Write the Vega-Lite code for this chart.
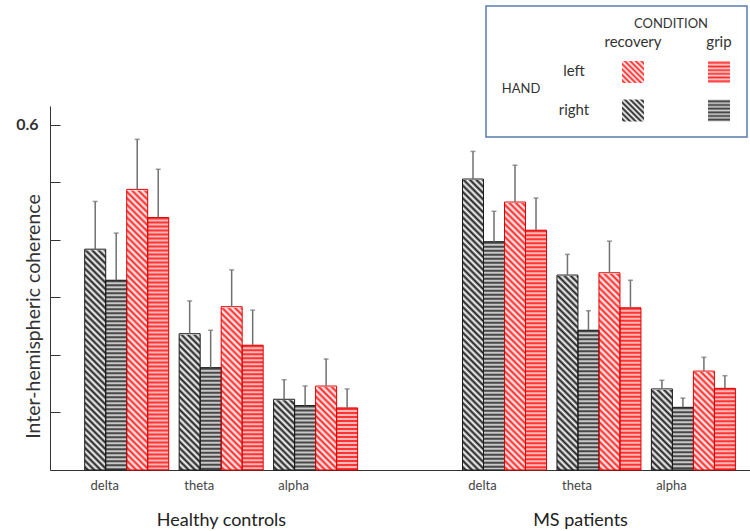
{
  "$schema": "https://vega.github.io/schema/vega-lite/v6.json",
  "width": 700,
  "height": 465,
  "autosize": {"type": "none"},
  "padding": {"left": 50, "top": 5, "right": 0, "bottom": 61},
  "background": "white",
  "config": {"view": {"stroke": null}, "font": "Lato"},
  "datasets": {
    "bars": [
      {"cell": "HC delta", "group": "Healthy controls", "band": "delta", "hand": "right", "condition": "recovery", "series": "right recovery", "mean": 0.384, "upper": 0.467},
      {"cell": "HC delta", "group": "Healthy controls", "band": "delta", "hand": "right", "condition": "grip", "series": "right grip", "mean": 0.330, "upper": 0.412},
      {"cell": "HC delta", "group": "Healthy controls", "band": "delta", "hand": "left", "condition": "recovery", "series": "left recovery", "mean": 0.488, "upper": 0.575},
      {"cell": "HC delta", "group": "Healthy controls", "band": "delta", "hand": "left", "condition": "grip", "series": "left grip", "mean": 0.439, "upper": 0.523},
      {"cell": "HC theta", "group": "Healthy controls", "band": "theta", "hand": "right", "condition": "recovery", "series": "right recovery", "mean": 0.237, "upper": 0.294},
      {"cell": "HC theta", "group": "Healthy controls", "band": "theta", "hand": "right", "condition": "grip", "series": "right grip", "mean": 0.178, "upper": 0.243},
      {"cell": "HC theta", "group": "Healthy controls", "band": "theta", "hand": "left", "condition": "recovery", "series": "left recovery", "mean": 0.284, "upper": 0.348},
      {"cell": "HC theta", "group": "Healthy controls", "band": "theta", "hand": "left", "condition": "grip", "series": "left grip", "mean": 0.217, "upper": 0.278},
      {"cell": "HC alpha", "group": "Healthy controls", "band": "alpha", "hand": "right", "condition": "recovery", "series": "right recovery", "mean": 0.123, "upper": 0.157},
      {"cell": "HC alpha", "group": "Healthy controls", "band": "alpha", "hand": "right", "condition": "grip", "series": "right grip", "mean": 0.112, "upper": 0.146},
      {"cell": "HC alpha", "group": "Healthy controls", "band": "alpha", "hand": "left", "condition": "recovery", "series": "left recovery", "mean": 0.146, "upper": 0.193},
      {"cell": "HC alpha", "group": "Healthy controls", "band": "alpha", "hand": "left", "condition": "grip", "series": "left grip", "mean": 0.108, "upper": 0.141},
      {"cell": "MS delta", "group": "MS patients", "band": "delta", "hand": "right", "condition": "recovery", "series": "right recovery", "mean": 0.506, "upper": 0.554},
      {"cell": "MS delta", "group": "MS patients", "band": "delta", "hand": "right", "condition": "grip", "series": "right grip", "mean": 0.397, "upper": 0.450},
      {"cell": "MS delta", "group": "MS patients", "band": "delta", "hand": "left", "condition": "recovery", "series": "left recovery", "mean": 0.466, "upper": 0.530},
      {"cell": "MS delta", "group": "MS patients", "band": "delta", "hand": "left", "condition": "grip", "series": "left grip", "mean": 0.417, "upper": 0.473},
      {"cell": "MS theta", "group": "MS patients", "band": "theta", "hand": "right", "condition": "recovery", "series": "right recovery", "mean": 0.339, "upper": 0.375},
      {"cell": "MS theta", "group": "MS patients", "band": "theta", "hand": "right", "condition": "grip", "series": "right grip", "mean": 0.243, "upper": 0.277},
      {"cell": "MS theta", "group": "MS patients", "band": "theta", "hand": "left", "condition": "recovery", "series": "left recovery", "mean": 0.343, "upper": 0.398},
      {"cell": "MS theta", "group": "MS patients", "band": "theta", "hand": "left", "condition": "grip", "series": "left grip", "mean": 0.282, "upper": 0.330},
      {"cell": "MS alpha", "group": "MS patients", "band": "alpha", "hand": "right", "condition": "recovery", "series": "right recovery", "mean": 0.141, "upper": 0.156},
      {"cell": "MS alpha", "group": "MS patients", "band": "alpha", "hand": "right", "condition": "grip", "series": "right grip", "mean": 0.109, "upper": 0.125},
      {"cell": "MS alpha", "group": "MS patients", "band": "alpha", "hand": "left", "condition": "recovery", "series": "left recovery", "mean": 0.172, "upper": 0.196},
      {"cell": "MS alpha", "group": "MS patients", "band": "alpha", "hand": "left", "condition": "grip", "series": "left grip", "mean": 0.142, "upper": 0.164}
    ],
    "groups": [{"group": "Healthy controls"}, {"group": "MS patients"}],
    "legend": [
      {"lx": "HAND", "ly": "HAND", "label": "HAND"},
      {"lx": "side", "ly": "left", "label": "left"},
      {"lx": "side", "ly": "right", "label": "right"},
      {"lx": "recovery", "ly": "header", "label": "recovery"},
      {"lx": "grip", "ly": "header", "label": "grip"},
      {"lx": "grip", "ly": "CONDITION", "label": "CONDITION"},
      {"lx": "recovery", "ly": "left", "swatch": "left recovery"},
      {"lx": "grip", "ly": "left", "swatch": "left grip"},
      {"lx": "recovery", "ly": "right", "swatch": "right recovery"},
      {"lx": "grip", "ly": "right", "swatch": "right grip"}
    ]
  },
  "layer": [
    {
      "data": {"name": "bars"},
      "encoding": {
        "x": {
          "field": "cell", "type": "nominal",
          "scale": {"domain": ["HC delta", "HC theta", "HC alpha", "gap", "MS delta", "MS theta", "MS alpha"], "paddingInner": 0.1106, "paddingOuter": 0.261, "align": 0.704},
          "axis": {"title": null, "labelExpr": "datum.value == 'gap' ? '' : split(datum.value, ' ')[1]", "ticks": false, "labelAngle": 0, "labelFontSize": 13, "labelFont": "Lato", "labelColor": "#444", "labelPadding": 9, "labelOffset": -22, "domainColor": "#333", "domainWidth": 1}
        },
        "xOffset": {"field": "series", "type": "nominal", "scale": {"domain": ["right recovery", "right grip", "left recovery", "left grip"], "paddingInner": 0, "paddingOuter": 0}}
      },
      "layer": [
        {
          "transform": [{"filter": "datum.series == 'right recovery'"}],
          "mark": {"type": "bar", "strokeWidth": 0, "fill": {"gradient": "linear", "x1": 0, "y1": 1, "x2": 0.0748, "y2": -0.065, "stops": [
            {"offset": 0, "color": "#fff"}, {"offset": 0.01, "color": "#1a1a1a"}, {"offset": 0.02, "color": "#fff"}, {"offset": 0.03, "color": "#1a1a1a"}, {"offset": 0.04, "color": "#fff"}, {"offset": 0.05, "color": "#1a1a1a"}, {"offset": 0.06, "color": "#fff"}, {"offset": 0.07, "color": "#1a1a1a"}, {"offset": 0.08, "color": "#fff"}, {"offset": 0.09, "color": "#1a1a1a"},
            {"offset": 0.10, "color": "#fff"}, {"offset": 0.11, "color": "#1a1a1a"}, {"offset": 0.12, "color": "#fff"}, {"offset": 0.13, "color": "#1a1a1a"}, {"offset": 0.14, "color": "#fff"}, {"offset": 0.15, "color": "#1a1a1a"}, {"offset": 0.16, "color": "#fff"}, {"offset": 0.17, "color": "#1a1a1a"}, {"offset": 0.18, "color": "#fff"}, {"offset": 0.19, "color": "#1a1a1a"},
            {"offset": 0.20, "color": "#fff"}, {"offset": 0.21, "color": "#1a1a1a"}, {"offset": 0.22, "color": "#fff"}, {"offset": 0.23, "color": "#1a1a1a"}, {"offset": 0.24, "color": "#fff"}, {"offset": 0.25, "color": "#1a1a1a"}, {"offset": 0.26, "color": "#fff"}, {"offset": 0.27, "color": "#1a1a1a"}, {"offset": 0.28, "color": "#fff"}, {"offset": 0.29, "color": "#1a1a1a"},
            {"offset": 0.30, "color": "#fff"}, {"offset": 0.31, "color": "#1a1a1a"}, {"offset": 0.32, "color": "#fff"}, {"offset": 0.33, "color": "#1a1a1a"}, {"offset": 0.34, "color": "#fff"}, {"offset": 0.35, "color": "#1a1a1a"}, {"offset": 0.36, "color": "#fff"}, {"offset": 0.37, "color": "#1a1a1a"}, {"offset": 0.38, "color": "#fff"}, {"offset": 0.39, "color": "#1a1a1a"},
            {"offset": 0.40, "color": "#fff"}, {"offset": 0.41, "color": "#1a1a1a"}, {"offset": 0.42, "color": "#fff"}, {"offset": 0.43, "color": "#1a1a1a"}, {"offset": 0.44, "color": "#fff"}, {"offset": 0.45, "color": "#1a1a1a"}, {"offset": 0.46, "color": "#fff"}, {"offset": 0.47, "color": "#1a1a1a"}, {"offset": 0.48, "color": "#fff"}, {"offset": 0.49, "color": "#1a1a1a"},
            {"offset": 0.50, "color": "#fff"}, {"offset": 0.51, "color": "#1a1a1a"}, {"offset": 0.52, "color": "#fff"}, {"offset": 0.53, "color": "#1a1a1a"}, {"offset": 0.54, "color": "#fff"}, {"offset": 0.55, "color": "#1a1a1a"}, {"offset": 0.56, "color": "#fff"}, {"offset": 0.57, "color": "#1a1a1a"}, {"offset": 0.58, "color": "#fff"}, {"offset": 0.59, "color": "#1a1a1a"},
            {"offset": 0.60, "color": "#fff"}, {"offset": 0.61, "color": "#1a1a1a"}, {"offset": 0.62, "color": "#fff"}, {"offset": 0.63, "color": "#1a1a1a"}, {"offset": 0.64, "color": "#fff"}, {"offset": 0.65, "color": "#1a1a1a"}, {"offset": 0.66, "color": "#fff"}, {"offset": 0.67, "color": "#1a1a1a"}, {"offset": 0.68, "color": "#fff"}, {"offset": 0.69, "color": "#1a1a1a"},
            {"offset": 0.70, "color": "#fff"}, {"offset": 0.71, "color": "#1a1a1a"}, {"offset": 0.72, "color": "#fff"}, {"offset": 0.73, "color": "#1a1a1a"}, {"offset": 0.74, "color": "#fff"}, {"offset": 0.75, "color": "#1a1a1a"}, {"offset": 0.76, "color": "#fff"}, {"offset": 0.77, "color": "#1a1a1a"}, {"offset": 0.78, "color": "#fff"}, {"offset": 0.79, "color": "#1a1a1a"},
            {"offset": 0.80, "color": "#fff"}, {"offset": 0.81, "color": "#1a1a1a"}, {"offset": 0.82, "color": "#fff"}, {"offset": 0.83, "color": "#1a1a1a"}, {"offset": 0.84, "color": "#fff"}, {"offset": 0.85, "color": "#1a1a1a"}, {"offset": 0.86, "color": "#fff"}, {"offset": 0.87, "color": "#1a1a1a"}, {"offset": 0.88, "color": "#fff"}, {"offset": 0.89, "color": "#1a1a1a"},
            {"offset": 0.90, "color": "#fff"}, {"offset": 0.91, "color": "#1a1a1a"}, {"offset": 0.92, "color": "#fff"}, {"offset": 0.93, "color": "#1a1a1a"}, {"offset": 0.94, "color": "#fff"}, {"offset": 0.95, "color": "#1a1a1a"}, {"offset": 0.96, "color": "#fff"}, {"offset": 0.97, "color": "#1a1a1a"}, {"offset": 0.98, "color": "#fff"}, {"offset": 0.99, "color": "#1a1a1a"},
            {"offset": 1, "color": "#fff"}]}},
          "encoding": {
            "y": {
              "datum": 0, "type": "quantitative",
              "scale": {"domain": [0, 0.633], "range": [465, 101], "nice": false, "zero": false},
              "axis": {"values": [0.1, 0.2, 0.3, 0.4, 0.5, 0.6], "labelExpr": "datum.value > 0.55 ? '0.6' : ''", "tickSize": -10, "labelPadding": 22, "labelFontSize": 16, "labelFontWeight": "bold", "labelFont": "Lato", "labelColor": "#333", "domainColor": "#333", "tickColor": "#333", "grid": false, "title": "Inter-hemispheric coherence", "titleFont": "Lato", "titleFontSize": 19.5, "titleFontWeight": "normal", "titleColor": "#333", "titleX": -17, "titleY": 311, "titleBaseline": "middle", "titleAngle": -90, "titleAlign": "center"}
            },
            "y2": {"datum": 0.52}
          }
        },
        {
          "transform": [{"filter": "datum.series == 'left recovery'"}],
          "mark": {"type": "bar", "strokeWidth": 0, "fill": {"gradient": "linear", "x1": 0, "y1": 1, "x2": 0.0748, "y2": -0.065, "stops": [
            {"offset": 0, "color": "#fff"}, {"offset": 0.01, "color": "#ff2020"}, {"offset": 0.02, "color": "#fff"}, {"offset": 0.03, "color": "#ff2020"}, {"offset": 0.04, "color": "#fff"}, {"offset": 0.05, "color": "#ff2020"}, {"offset": 0.06, "color": "#fff"}, {"offset": 0.07, "color": "#ff2020"}, {"offset": 0.08, "color": "#fff"}, {"offset": 0.09, "color": "#ff2020"},
            {"offset": 0.10, "color": "#fff"}, {"offset": 0.11, "color": "#ff2020"}, {"offset": 0.12, "color": "#fff"}, {"offset": 0.13, "color": "#ff2020"}, {"offset": 0.14, "color": "#fff"}, {"offset": 0.15, "color": "#ff2020"}, {"offset": 0.16, "color": "#fff"}, {"offset": 0.17, "color": "#ff2020"}, {"offset": 0.18, "color": "#fff"}, {"offset": 0.19, "color": "#ff2020"},
            {"offset": 0.20, "color": "#fff"}, {"offset": 0.21, "color": "#ff2020"}, {"offset": 0.22, "color": "#fff"}, {"offset": 0.23, "color": "#ff2020"}, {"offset": 0.24, "color": "#fff"}, {"offset": 0.25, "color": "#ff2020"}, {"offset": 0.26, "color": "#fff"}, {"offset": 0.27, "color": "#ff2020"}, {"offset": 0.28, "color": "#fff"}, {"offset": 0.29, "color": "#ff2020"},
            {"offset": 0.30, "color": "#fff"}, {"offset": 0.31, "color": "#ff2020"}, {"offset": 0.32, "color": "#fff"}, {"offset": 0.33, "color": "#ff2020"}, {"offset": 0.34, "color": "#fff"}, {"offset": 0.35, "color": "#ff2020"}, {"offset": 0.36, "color": "#fff"}, {"offset": 0.37, "color": "#ff2020"}, {"offset": 0.38, "color": "#fff"}, {"offset": 0.39, "color": "#ff2020"},
            {"offset": 0.40, "color": "#fff"}, {"offset": 0.41, "color": "#ff2020"}, {"offset": 0.42, "color": "#fff"}, {"offset": 0.43, "color": "#ff2020"}, {"offset": 0.44, "color": "#fff"}, {"offset": 0.45, "color": "#ff2020"}, {"offset": 0.46, "color": "#fff"}, {"offset": 0.47, "color": "#ff2020"}, {"offset": 0.48, "color": "#fff"}, {"offset": 0.49, "color": "#ff2020"},
            {"offset": 0.50, "color": "#fff"}, {"offset": 0.51, "color": "#ff2020"}, {"offset": 0.52, "color": "#fff"}, {"offset": 0.53, "color": "#ff2020"}, {"offset": 0.54, "color": "#fff"}, {"offset": 0.55, "color": "#ff2020"}, {"offset": 0.56, "color": "#fff"}, {"offset": 0.57, "color": "#ff2020"}, {"offset": 0.58, "color": "#fff"}, {"offset": 0.59, "color": "#ff2020"},
            {"offset": 0.60, "color": "#fff"}, {"offset": 0.61, "color": "#ff2020"}, {"offset": 0.62, "color": "#fff"}, {"offset": 0.63, "color": "#ff2020"}, {"offset": 0.64, "color": "#fff"}, {"offset": 0.65, "color": "#ff2020"}, {"offset": 0.66, "color": "#fff"}, {"offset": 0.67, "color": "#ff2020"}, {"offset": 0.68, "color": "#fff"}, {"offset": 0.69, "color": "#ff2020"},
            {"offset": 0.70, "color": "#fff"}, {"offset": 0.71, "color": "#ff2020"}, {"offset": 0.72, "color": "#fff"}, {"offset": 0.73, "color": "#ff2020"}, {"offset": 0.74, "color": "#fff"}, {"offset": 0.75, "color": "#ff2020"}, {"offset": 0.76, "color": "#fff"}, {"offset": 0.77, "color": "#ff2020"}, {"offset": 0.78, "color": "#fff"}, {"offset": 0.79, "color": "#ff2020"},
            {"offset": 0.80, "color": "#fff"}, {"offset": 0.81, "color": "#ff2020"}, {"offset": 0.82, "color": "#fff"}, {"offset": 0.83, "color": "#ff2020"}, {"offset": 0.84, "color": "#fff"}, {"offset": 0.85, "color": "#ff2020"}, {"offset": 0.86, "color": "#fff"}, {"offset": 0.87, "color": "#ff2020"}, {"offset": 0.88, "color": "#fff"}, {"offset": 0.89, "color": "#ff2020"},
            {"offset": 0.90, "color": "#fff"}, {"offset": 0.91, "color": "#ff2020"}, {"offset": 0.92, "color": "#fff"}, {"offset": 0.93, "color": "#ff2020"}, {"offset": 0.94, "color": "#fff"}, {"offset": 0.95, "color": "#ff2020"}, {"offset": 0.96, "color": "#fff"}, {"offset": 0.97, "color": "#ff2020"}, {"offset": 0.98, "color": "#fff"}, {"offset": 0.99, "color": "#ff2020"},
            {"offset": 1, "color": "#fff"}]}},
          "encoding": {"y": {"datum": 0, "type": "quantitative"}, "y2": {"datum": 0.52}}
        },
        {
          "transform": [{"filter": "datum.condition == 'recovery'"}],
          "mark": {"type": "bar", "fill": "white", "stroke": "white", "strokeWidth": 2},
          "encoding": {"y": {"field": "mean", "type": "quantitative"}, "y2": {"datum": 0.53}}
        },
        {
          "transform": [{"filter": "datum.condition == 'grip'"}],
          "mark": {"type": "bar", "strokeWidth": 0},
          "encoding": {
            "y": {"field": "mean", "type": "quantitative"},
            "fill": {"condition": {"test": "datum.hand == 'left'", "value": "#ffb8b8"}, "value": "#c8c8c8"}
          }
        },
        {
          "transform": [{"filter": "datum.condition == 'grip'"}],
          "mark": {"type": "rule", "strokeWidth": 21, "strokeDash": [2, 2], "strokeCap": "butt"},
          "encoding": {
            "y": {"field": "mean", "type": "quantitative"},
            "y2": {"datum": 0},
            "stroke": {"condition": {"test": "datum.hand == 'left'", "value": "#ff3535"}, "value": "#484848"}
          }
        },
        {
          "mark": {"type": "bar", "fillOpacity": 0, "strokeWidth": 1},
          "encoding": {
            "y": {"field": "mean", "type": "quantitative"},
            "stroke": {"condition": {"test": "datum.hand == 'left'", "value": "#e00000"}, "value": "#1a1a1a"}
          }
        },
        {
          "mark": {"type": "rule", "stroke": "#707070", "strokeWidth": 1.5},
          "encoding": {"y": {"field": "mean", "type": "quantitative"}, "y2": {"field": "upper"}}
        },
        {
          "mark": {"type": "tick", "color": "#707070", "thickness": 1.5, "size": 5},
          "encoding": {"y": {"field": "upper", "type": "quantitative"}}
        }
      ]
    },
    {
      "data": {"name": "groups"},
      "mark": {"type": "text", "opacity": 0},
      "encoding": {
        "text": {"value": ""},
        "x": {
          "field": "group", "type": "nominal",
          "scale": {"type": "point", "domain": ["Healthy controls", "MS patients"], "range": [171, 530], "padding": 0},
          "axis": {"orient": "bottom", "title": null, "domain": false, "ticks": false, "labelAngle": 0, "labelPadding": 41, "labelFontSize": 18, "labelFont": "Lato", "labelColor": "#222"}
        }
      }
    },
    {
      "data": {"values": [{}]},
      "mark": {"type": "rect", "fill": "white", "stroke": "#5a7bb0", "strokeWidth": 1.5},
      "encoding": {
        "x": {"datum": 0, "type": "quantitative", "scale": {"domain": [0, 1], "range": [436, 697]}, "axis": null},
        "x2": {"datum": 1},
        "y": {"datum": 0, "type": "quantitative", "scale": {"domain": [0, 1], "range": [1, 132]}, "axis": null},
        "y2": {"datum": 1}
      }
    },
    {
      "data": {"name": "legend"},
      "encoding": {
        "x": {"field": "lx", "type": "nominal", "scale": {"type": "point", "domain": ["HAND", "side", "recovery", "grip"], "range": [411, 669], "padding": 0}, "axis": null},
        "y": {"field": "ly", "type": "nominal", "scale": {"type": "point", "domain": ["CONDITION", "header", "left", "HAND", "right"], "range": [28.5, 105.5], "padding": 0}, "axis": null}
      },
      "layer": [
        {
          "transform": [{"filter": "datum.label == 'HAND'"}],
          "mark": {"type": "text", "dx": 60, "dy": -2, "fontSize": 13, "font": "Lato", "color": "#333"},
          "encoding": {"text": {"field": "label"}}
        },
        {
          "transform": [{"filter": "datum.label == 'left' || datum.label == 'right'"}],
          "mark": {"type": "text", "dx": 27, "dy": -1, "fontSize": 15, "font": "Lato", "color": "#333"},
          "encoding": {"text": {"field": "label"}}
        },
        {
          "transform": [{"filter": "datum.label == 'recovery' || datum.label == 'grip'"}],
          "mark": {"type": "text", "dy": -11, "fontSize": 15, "font": "Lato", "color": "#333"},
          "encoding": {"text": {"field": "label"}}
        },
        {
          "transform": [{"filter": "datum.label == 'CONDITION'"}],
          "mark": {"type": "text", "dx": -48, "dy": -9.5, "fontSize": 13, "font": "Lato", "color": "#333"},
          "encoding": {"text": {"field": "label"}}
        },
        {
          "transform": [{"filter": "datum.swatch == 'left recovery'"}],
          "mark": {"type": "point", "shape": "square", "size": 484, "filled": true, "opacity": 1, "strokeWidth": 0, "fill": {"gradient": "linear", "x1": 0, "y1": 1, "x2": 1, "y2": 0, "stops": [
            {"offset": 0, "color": "#fff"}, {"offset": 0.0625, "color": "#ff2020"}, {"offset": 0.125, "color": "#fff"}, {"offset": 0.1875, "color": "#ff2020"}, {"offset": 0.25, "color": "#fff"}, {"offset": 0.3125, "color": "#ff2020"}, {"offset": 0.375, "color": "#fff"}, {"offset": 0.4375, "color": "#ff2020"}, {"offset": 0.5, "color": "#fff"}, {"offset": 0.5625, "color": "#ff2020"}, {"offset": 0.625, "color": "#fff"}, {"offset": 0.6875, "color": "#ff2020"}, {"offset": 0.75, "color": "#fff"}, {"offset": 0.8125, "color": "#ff2020"}, {"offset": 0.875, "color": "#fff"}, {"offset": 0.9375, "color": "#ff2020"}, {"offset": 1, "color": "#fff"}]}}
        },
        {
          "transform": [{"filter": "datum.swatch == 'right recovery'"}],
          "mark": {"type": "point", "shape": "square", "size": 484, "filled": true, "opacity": 1, "strokeWidth": 0, "fill": {"gradient": "linear", "x1": 0, "y1": 1, "x2": 1, "y2": 0, "stops": [
            {"offset": 0, "color": "#fff"}, {"offset": 0.0625, "color": "#1a1a1a"}, {"offset": 0.125, "color": "#fff"}, {"offset": 0.1875, "color": "#1a1a1a"}, {"offset": 0.25, "color": "#fff"}, {"offset": 0.3125, "color": "#1a1a1a"}, {"offset": 0.375, "color": "#fff"}, {"offset": 0.4375, "color": "#1a1a1a"}, {"offset": 0.5, "color": "#fff"}, {"offset": 0.5625, "color": "#1a1a1a"}, {"offset": 0.625, "color": "#fff"}, {"offset": 0.6875, "color": "#1a1a1a"}, {"offset": 0.75, "color": "#fff"}, {"offset": 0.8125, "color": "#1a1a1a"}, {"offset": 0.875, "color": "#fff"}, {"offset": 0.9375, "color": "#1a1a1a"}, {"offset": 1, "color": "#fff"}]}}
        },
        {
          "transform": [{"filter": "datum.swatch == 'left grip'"}],
          "mark": {"type": "point", "shape": "square", "size": 484, "filled": true, "opacity": 1, "strokeWidth": 0, "fill": {"gradient": "linear", "x1": 0, "y1": 0, "x2": 0, "y2": 1, "stops": [
            {"offset": 0, "color": "#ffd0d0"}, {"offset": 0.0833, "color": "#ff2a2a"}, {"offset": 0.1667, "color": "#ffd0d0"}, {"offset": 0.25, "color": "#ff2a2a"}, {"offset": 0.3333, "color": "#ffd0d0"}, {"offset": 0.4167, "color": "#ff2a2a"}, {"offset": 0.5, "color": "#ffd0d0"}, {"offset": 0.5833, "color": "#ff2a2a"}, {"offset": 0.6667, "color": "#ffd0d0"}, {"offset": 0.75, "color": "#ff2a2a"}, {"offset": 0.8333, "color": "#ffd0d0"}, {"offset": 0.9167, "color": "#ff2a2a"}, {"offset": 1, "color": "#ffd0d0"}]}}
        },
        {
          "transform": [{"filter": "datum.swatch == 'right grip'"}],
          "mark": {"type": "point", "shape": "square", "size": 484, "filled": true, "opacity": 1, "strokeWidth": 0, "fill": {"gradient": "linear", "x1": 0, "y1": 0, "x2": 0, "y2": 1, "stops": [
            {"offset": 0, "color": "#d0d0d0"}, {"offset": 0.0833, "color": "#3a3a3a"}, {"offset": 0.1667, "color": "#d0d0d0"}, {"offset": 0.25, "color": "#3a3a3a"}, {"offset": 0.3333, "color": "#d0d0d0"}, {"offset": 0.4167, "color": "#3a3a3a"}, {"offset": 0.5, "color": "#d0d0d0"}, {"offset": 0.5833, "color": "#3a3a3a"}, {"offset": 0.6667, "color": "#d0d0d0"}, {"offset": 0.75, "color": "#3a3a3a"}, {"offset": 0.8333, "color": "#d0d0d0"}, {"offset": 0.9167, "color": "#3a3a3a"}, {"offset": 1, "color": "#d0d0d0"}]}}
        }
      ]
    }
  ],
  "resolve": {"scale": {"x": "independent", "y": "independent"}, "axis": {"x": "independent", "y": "independent"}}
}
